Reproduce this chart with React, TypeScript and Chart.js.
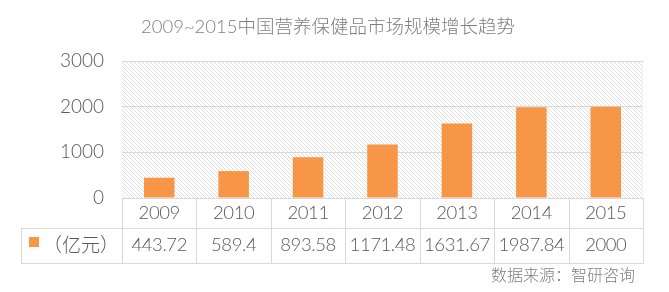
import React, { useEffect, useRef } from 'react';
import { Chart, registerables } from 'chart.js';

Chart.register(...registerables);

const categories = ['2009', '2010', '2011', '2012', '2013', '2014', '2015'];
const marketSize = [443.72, 589.4, 893.58, 1171.48, 1631.67, 1987.84, 2000];
const valueLabels = ['443.72', '589.4', '893.58', '1171.48', '1631.67', '1987.84', '2000'];
const yMin = 0;
const yMax = 3000;
const yStep = 1000;
const seriesName = '（亿元）';
const titleText = '2009~2015中国营养保健品市场规模增长趋势';
const sourceText = '数据来源：智研咨询';

const FONT = 'Lato, "Noto Sans CJK SC", sans-serif';
const CJK = '"Noto Sans CJK SC", sans-serif';
const ORANGE = '#F79646';
const LINE = '#d9d9d9';
const TEXT = '#595959';

function makeHatch(ctx: CanvasRenderingContext2D) {
  const c = document.createElement('canvas');
  c.width = 4;
  c.height = 4;
  const g = c.getContext('2d')!;
  const img = g.createImageData(4, 4);
  for (let y = 0; y < 4; y++) {
    for (let x = 0; x < 4; x++) {
      const i = (y * 4 + x) * 4;
      const on = x === y;
      const val = on ? 222 : 255;
      img.data[i] = val; img.data[i + 1] = val; img.data[i + 2] = val; img.data[i + 3] = 255;
    }
  }
  g.putImageData(img, 0, 0);
  return ctx.createPattern(c, 'repeat');
}

const hatchPlugin = {
  id: 'hatchBg',
  beforeDraw(chart: any) {
    const { ctx, chartArea } = chart;
    const p = makeHatch(ctx);
    if (!p) return;
    ctx.save();
    ctx.fillStyle = p;
    ctx.fillRect(chartArea.left, chartArea.top, chartArea.right - chartArea.left, chartArea.bottom - chartArea.top);
    ctx.restore();
  },
};

const tablePlugin = {
  id: 'dataTable',
  afterDraw(chart: any) {
    const { ctx, chartArea } = chart;
    const xs = chart.scales.x;
    const n = categories.length;
    const half = (xs.getPixelForValue(1) - xs.getPixelForValue(0)) / 2;
    const left = chartArea.left;
    const right = chartArea.right;
    const top = chartArea.bottom;
    const mid = top + 30;
    const bottom = top + 65;
    const legendLeft = 21;
    ctx.save();
    ctx.strokeStyle = LINE;
    ctx.lineWidth = 1;
    ctx.beginPath();
    const h = (y: number, x1: number, x2: number) => {
      ctx.moveTo(x1, Math.round(y) + 0.5);
      ctx.lineTo(x2, Math.round(y) + 0.5);
    };
    const v = (x: number, y1: number, y2: number) => {
      ctx.moveTo(Math.round(x) + 0.5, y1);
      ctx.lineTo(Math.round(x) + 0.5, y2);
    };
    h(top, left, right + 1);
    h(mid, legendLeft, right + 1);
    h(bottom, legendLeft, right + 1);
    v(legendLeft, mid, bottom + 1);
    for (let i = 0; i <= n; i++) {
      const x = i < n ? xs.getPixelForValue(i) - half : right;
      v(x, top, bottom + 1);
    }
    ctx.stroke();

    ctx.fillStyle = TEXT;
    ctx.font = `300 18.5px ${FONT}`;
    ctx.textAlign = 'center';
    ctx.textBaseline = 'middle';
    if ('letterSpacing' in ctx) (ctx as any).letterSpacing = '-0.4px';
    for (let i = 0; i < n; i++) {
      const cx = xs.getPixelForValue(i);
      ctx.fillText(categories[i], cx, top + 15);
      ctx.fillText(valueLabels[i], cx, mid + 17);
    }
    if ('letterSpacing' in ctx) (ctx as any).letterSpacing = '0px';
    ctx.fillStyle = ORANGE;
    ctx.fillRect(29, mid + 9, 10, 10);
    ctx.fillStyle = TEXT;
    ctx.font = `300 19px ${CJK}`;
    ctx.fillText(seriesName, 81, mid + 17);

    ctx.fillStyle = '#7f7f7f';
    ctx.font = `300 18.5px ${FONT}`;
    ctx.fillText(titleText, 328, 27);

    ctx.font = `300 16px ${CJK}`;
    ctx.textAlign = 'right';
    ctx.fillText(sourceText, 635, 275);
    ctx.restore();
  },
};

export default function App() {
  const ref = useRef<HTMLCanvasElement | null>(null);
  useEffect(() => {
    document.body.style.margin = '0';
    const canvas = ref.current;
    if (!canvas) return;
    const chart = new Chart(canvas, {
      type: 'bar',
      data: {
        labels: categories,
        datasets: [
          {
            label: seriesName,
            data: marketSize,
            backgroundColor: ORANGE,
            categoryPercentage: 1,
            barPercentage: 0.41,
          },
        ],
      },
      options: {
        responsive: false,
        animation: false,
        devicePixelRatio: 1,
        layout: { padding: { left: 0, right: 26, top: 61, bottom: 94 } },
        plugins: {
          legend: { display: false },
          title: { display: false },
          tooltip: { enabled: false },
        },
        scales: {
          x: { display: false },
          y: {
            min: yMin,
            max: yMax,
            afterFit: (s: any) => {
              s.width = 122;
            },
            ticks: {
              stepSize: yStep,
              padding: 18,
              color: TEXT,
              font: { family: FONT, size: 19, weight: '300' as any },
              callback: (val: any) => String(val),
            },
            grid: { color: LINE, drawTicks: false },
            border: { display: false },
          },
        },
      },
      plugins: [hatchPlugin, tablePlugin],
    });
    return () => chart.destroy();
  }, []);
  return <canvas ref={ref} width={669} height={292} style={{ display: 'block' }} />;
}
